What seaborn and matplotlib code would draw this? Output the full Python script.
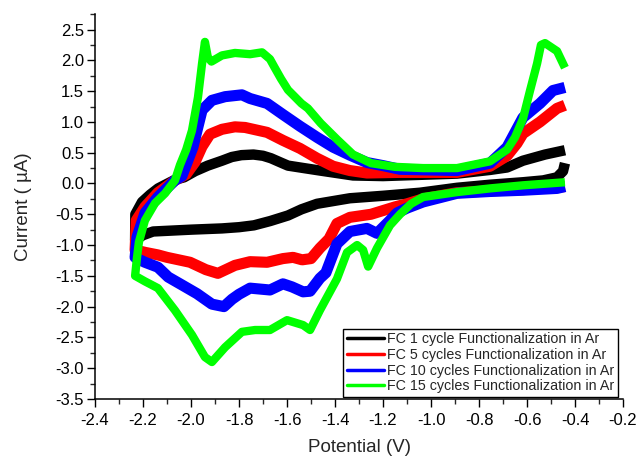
import matplotlib
matplotlib.use("Agg")
import matplotlib.pyplot as plt
from matplotlib.lines import Line2D
from matplotlib.ticker import MultipleLocator, FuncFormatter
import pandas as pd
import seaborn as sns

# Cyclic voltammograms: each path runs along the cathodic (lower) branch from the
# switching potential down to -2.23 V, then back along the anodic (upper) branch.
labels = [
    "FC 1 cycle Functionalization in Ar",
    "FC 5 cycles Functionalization in Ar",
    "FC 10 cycles Functionalization in Ar",
    "FC 15 cycles Functionalization in Ar",
]
colors = ["#000000", "#ff0000", "#0000ff", "#00ff00"]

fc1_v = [-0.442, -0.450, -0.475, -0.533, -0.617, -0.754, -0.892, -1.046, -1.200,
         -1.338, -1.475, -1.540, -1.596, -1.670, -1.738, -1.800, -1.871, -2.000,
         -2.158, -2.200, -2.233,
         -2.232, -2.204, -2.170, -2.137, -2.067, -2.029, -1.983, -1.930, -1.871,
         -1.830, -1.790, -1.740, -1.700, -1.667, -1.620, -1.596, -1.530, -1.463,
         -1.325, -1.200, -0.892, -0.754, -0.683, -0.617, -0.525, -0.442]
fc1_i = [0.33, 0.20, 0.10, 0.05, 0.02, -0.02, -0.07, -0.15, -0.20,
         -0.24, -0.33, -0.42, -0.52, -0.61, -0.68, -0.71, -0.73, -0.75,
         -0.78, -0.84, -0.92,
         -0.50, -0.30, -0.18, -0.08, 0.06, 0.10, 0.20, 0.29, 0.37,
         0.43, 0.46, 0.47, 0.45, 0.41, 0.33, 0.29, 0.25, 0.21,
         0.13, 0.12, 0.16, 0.22, 0.26, 0.37, 0.47, 0.54]

fc5_v = [-0.442, -0.617, -0.754, -0.892, -1.033, -1.100, -1.150, -1.250, -1.338,
         -1.392, -1.425, -1.463, -1.500, -1.537, -1.575, -1.617, -1.683, -1.754,
         -1.817, -1.888, -1.938, -2.004, -2.100, -2.138, -2.190, -2.233,
         -2.228, -2.192, -2.138, -2.067, -2.020, -1.983, -1.954, -1.921, -1.871,
         -1.817, -1.775, -1.683, -1.617, -1.546, -1.475, -1.408, -1.338, -1.267,
         -1.129, -0.892, -0.754, -0.683, -0.642, -0.617, -0.546, -0.475, -0.442]
fc5_i = [-0.05, -0.10, -0.12, -0.15, -0.25, -0.33, -0.38, -0.50, -0.55,
         -0.65, -0.90, -1.05, -1.22, -1.24, -1.20, -1.22, -1.28, -1.27,
         -1.33, -1.46, -1.40, -1.28, -1.20, -1.16, -1.12, -1.08,
         -0.60, -0.38, -0.15, 0.05, 0.15, 0.35, 0.60, 0.80, 0.88,
         0.92, 0.91, 0.83, 0.70, 0.57, 0.41, 0.28, 0.21, 0.17,
         0.18, 0.18, 0.28, 0.45, 0.65, 0.81, 1.00, 1.22, 1.27]

fc10_v = [-0.442, -0.475, -0.617, -0.754, -0.892, -1.033, -1.100, -1.142, -1.171,
          -1.225, -1.267, -1.338, -1.392, -1.438, -1.463, -1.504, -1.533, -1.579,
          -1.617, -1.671, -1.754, -1.800, -1.829, -1.863, -1.913, -1.975, -2.037,
          -2.095, -2.138, -2.192, -2.225, -2.233,
          -2.225, -2.192, -2.138, -2.067, -2.038, -1.992, -1.975, -1.954, -1.913,
          -1.858, -1.788, -1.754, -1.683, -1.617, -1.546, -1.475, -1.408, -1.338,
          -1.267, -1.200, -1.129, -0.892, -0.754, -0.683, -0.617, -0.546, -0.492,
          -0.442]
fc10_i = [-0.05, -0.08, -0.11, -0.13, -0.16, -0.30, -0.40, -0.48, -0.60,
          -0.81, -0.73, -0.78, -0.98, -1.45, -1.54, -1.75, -1.76, -1.68,
          -1.63, -1.73, -1.70, -1.80, -1.88, -2.00, -1.96, -1.79, -1.65,
          -1.52, -1.36, -1.28, -1.22, -1.20,
          -0.87, -0.48, -0.22, 0.05, 0.12, 0.59, 0.86, 1.19, 1.35,
          1.41, 1.44, 1.38, 1.30, 1.12, 0.93, 0.75, 0.59, 0.46,
          0.34, 0.29, 0.23, 0.21, 0.33, 0.59, 1.07, 1.30, 1.51,
          1.56]

fc15_v = [-0.442, -0.617, -0.754, -0.892, -1.033, -1.083, -1.129, -1.171, -1.225,
          -1.262, -1.283, -1.308, -1.350, -1.392, -1.463, -1.504, -1.533, -1.600,
          -1.671, -1.733, -1.788, -1.858, -1.913, -1.942, -1.996, -2.067, -2.138,
          -2.192, -2.233,
          -2.225, -2.217, -2.192, -2.150, -2.108, -2.067, -2.046, -2.020, -1.996,
          -1.971, -1.954, -1.942, -1.930, -1.915, -1.871, -1.817, -1.754,
          -1.704, -1.671, -1.654, -1.625, -1.596, -1.540, -1.513, -1.460, -1.390,
          -1.325, -1.250, -1.150, -1.033, -0.892, -0.754, -0.683, -0.650, -0.617,
          -0.588, -0.558, -0.542, -0.525, -0.475, -0.442]
fc15_i = [0.02, -0.03, -0.08, -0.14, -0.22, -0.33, -0.50, -0.68, -1.05,
          -1.35, -1.08, -1.00, -1.12, -1.55, -2.06, -2.38, -2.30, -2.22,
          -2.38, -2.38, -2.41, -2.66, -2.90, -2.82, -2.46, -2.06, -1.70,
          -1.59, -1.50,
          -1.20, -0.95, -0.60, -0.32, -0.16, 0.05, 0.30, 0.55, 0.86,
          1.40, 1.95, 2.30, 2.05, 1.98, 2.08, 2.12, 2.10,
          2.13, 2.02, 1.90, 1.70, 1.52, 1.30, 1.22, 0.98, 0.71,
          0.47, 0.33, 0.27, 0.25, 0.25, 0.36, 0.55, 0.75, 1.05,
          1.50, 1.95, 2.25, 2.28, 2.15, 1.88]

potentials = [fc1_v, fc5_v, fc10_v, fc15_v]
currents = [fc1_i, fc5_i, fc10_i, fc15_i]

frames = []
for lab, v, i in zip(labels, potentials, currents):
    frames.append(pd.DataFrame({"Potential": v, "Current": i, "Sample": lab}))
df = pd.concat(frames, ignore_index=True)

sns.set_style("ticks")
plt.rcParams["font.family"] = ["Liberation Sans", "DejaVu Sans"]

fig = plt.figure(figsize=(6.39, 4.57), dpi=100)
ax = fig.add_axes([0.1487, 0.127, 0.8263, 0.842])

# wide strokes stand in for the noisy current bands
band = {labels[0]: 7.5, labels[1]: 8.0, labels[2]: 8.0, labels[3]: 6.0}
for lab, col in zip(labels, colors):
    sub = df[df["Sample"] == lab]
    sns.lineplot(data=sub, x="Potential", y="Current", color=col, sort=False,
                 estimator=None, linewidth=band[lab], solid_joinstyle="round",
                 solid_capstyle="butt", ax=ax)

ax.set_xlim(-2.4, -0.2)
ax.set_ylim(-3.5, 2.75)
ax.xaxis.set_major_locator(MultipleLocator(0.2))
ax.xaxis.set_minor_locator(MultipleLocator(0.1))
ax.yaxis.set_major_locator(MultipleLocator(0.5))
ax.yaxis.set_minor_locator(MultipleLocator(0.25))
ax.xaxis.set_major_formatter(FuncFormatter(lambda x, p: f"{x:.1f}"))
ax.yaxis.set_major_formatter(FuncFormatter(lambda y, p: f"{y:.1f}"))

for s in ("top", "right"):
    ax.spines[s].set_visible(False)
for s in ("left", "bottom"):
    ax.spines[s].set_linewidth(1.1)
    ax.spines[s].set_color("black")

ax.tick_params(which="major", direction="out", length=6, width=1.0, labelsize=12,
               colors="black")
ax.tick_params(which="minor", direction="out", length=3.5, width=1.0)
ax.tick_params(axis="y", which="major", pad=2)
ax.tick_params(axis="x", which="major", pad=4)

ax.set_xlabel("Potential (V)", fontsize=13.5, labelpad=8)
ax.set_ylabel("Current ( µA)", fontsize=13.5, labelpad=17)

handles = [Line2D([0], [0], color=c, lw=2.5) for c in colors]
leg = ax.legend(handles, labels, loc="lower right", bbox_to_anchor=(0.99, 0.005),
                fontsize=10.3, frameon=True, fancybox=False, framealpha=1,
                edgecolor="black", handlelength=2.6, handletextpad=0.2,
                labelspacing=0.12, borderpad=0.25, borderaxespad=0)
leg.get_frame().set_linewidth(1.0)

fig.savefig("out.png", dpi=100)
